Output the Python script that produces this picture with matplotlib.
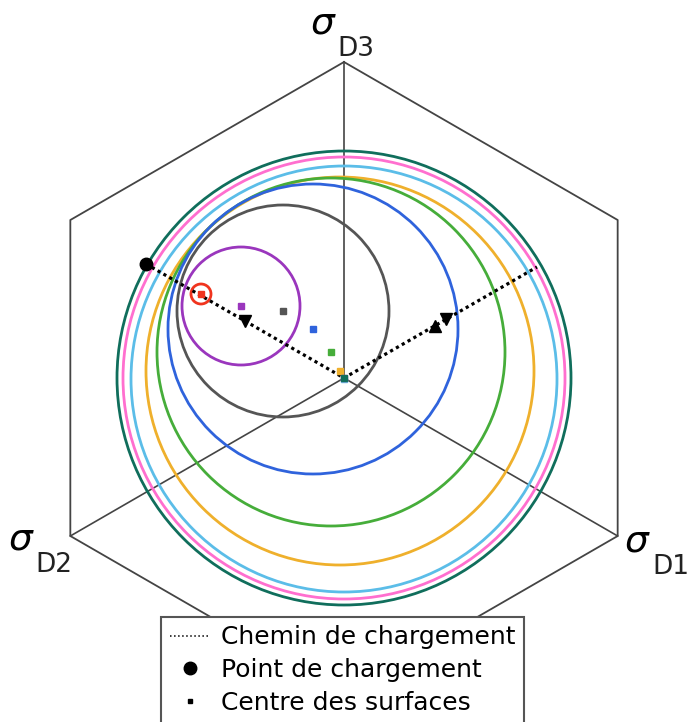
import numpy as np
import matplotlib
matplotlib.use("Agg")
import matplotlib.pyplot as plt
from matplotlib.lines import Line2D
from matplotlib.patches import Circle

# Deviatoric plane, units = px of the original figure (hexagon radius 316)
hex_radius = 316
axis_names = ["D1", "D2", "D3"]
axis_angles = [-30, 210, 90]

# Surfaces (circles): centre x, centre y, radius, colour
surf_x = [0, 0, 0, -4, -13, -31, -61, -103, -143]
surf_y = [0, 0, -1, 7, 26, 49, 67, 72, 84]
surf_r = [227, 221, 213, 194, 174, 145, 106, 59, 10]
surf_colors = ["#106e5c", "#ff6fcf", "#5bbde8", "#efb02c", "#46ad3a",
               "#2f63dc", "#555555", "#9a36bd", "#f0341e"]

# Loading path (start point, origin, end point, back to origin)
path_x = [-198, 0, 193, 0]
path_y = [114, 0, 111, 0]

fig = plt.figure(figsize=(6.89, 7.22), dpi=100)
ax = fig.add_axes([0, 0, 1, 1])
ax.set_xlim(-344, 345)
ax.set_ylim(-344, 378)
ax.set_aspect("equal")
ax.axis("off")

# hexagon and principal axes
ang = np.deg2rad(np.arange(90, 451, 60))
ax.plot(hex_radius * np.cos(ang), hex_radius * np.sin(ang), color="#444444", lw=1.3, zorder=1)
for a in axis_angles:
    a = np.deg2rad(a)
    ax.plot([0, hex_radius * np.cos(a)], [0, hex_radius * np.sin(a)], color="#444444", lw=1.2, zorder=1)

# axis labels: sigma + lowered subscript, placed next to each vertex
label_offsets = {"D1": (20, -6), "D2": (-49, -4), "D3": (-21, 38)}
for name, a in zip(axis_names, axis_angles):
    a = np.deg2rad(a)
    vx, vy = hex_radius * np.cos(a), hex_radius * np.sin(a)
    dx, dy = label_offsets[name]
    ax.text(vx + dx, vy + dy, r"$\sigma$", ha="center", va="center", fontsize=27)
    ax.text(vx + dx + 33, vy + dy - 25, name, ha="center", va="center", fontsize=19, color="#222222")

# surfaces
for cx, cy, r, c in zip(surf_x, surf_y, surf_r, surf_colors):
    ax.add_patch(Circle((cx, cy), r, fill=False, edgecolor=c, lw=2, zorder=2))
for cx, cy, c in list(zip(surf_x, surf_y, surf_colors))[::-1]:
    ax.plot(cx, cy, "s", color=c, ms=4.5, zorder=4)

# loading path with direction arrows (return leg overlaps the outgoing one)
ax.plot(path_x[:3], path_y[:3], color="black", lw=2.3, dashes=(1, 1.1), zorder=3)
ax.plot(path_x[0], path_y[0], "o", color="black", ms=9, zorder=5)
ax.plot(0.5 * (path_x[0] + path_x[1]), 0.5 * (path_y[0] + path_y[1]), "v", color="black", ms=8, zorder=5)
ax.plot(0.47 * path_x[2], 0.47 * path_y[2], "^", color="black", ms=8, zorder=5)
ax.plot(0.53 * path_x[2], 0.53 * path_y[2], "v", color="black", ms=8, zorder=5)

handles = [
    Line2D([], [], color="black", ls=":", lw=1.1),
    Line2D([], [], color="black", marker="o", ls="none", ms=9),
    Line2D([], [], color="black", marker="s", ls="none", ms=3.5),
]
labels = ["Chemin de chargement", "Point de chargement", "Centre des surfaces"]
leg = fig.legend(handles, labels, loc="upper center", bbox_to_anchor=(0.497, 0.146),
                 fontsize=18, frameon=True, fancybox=False, framealpha=1,
                 edgecolor="#555555", borderpad=0.35, labelspacing=0.35,
                 handlelength=1.6, handletextpad=0.45, borderaxespad=0)
leg.get_frame().set_linewidth(1.5)

fig.savefig("out.png", dpi=100)
